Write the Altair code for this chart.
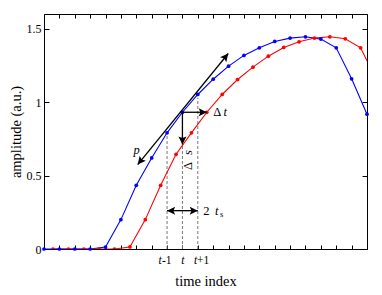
import altair as alt
import pandas as pd

# ---- data ----
blue_x = list(range(22))
blue_y = [0, 0, 0, 0, 0.013, 0.2, 0.434, 0.62, 0.791, 0.931, 1.052, 1.156, 1.245,
          1.318, 1.37, 1.413, 1.436, 1.445, 1.429, 1.37, 1.159, 0.918]
red_x = [0.585 + k for k in range(22)]
red_y = [0, 0, 0, 0, 0, 0.014, 0.2, 0.434, 0.645, 0.791, 0.931, 1.052, 1.154,
         1.238, 1.313, 1.372, 1.411, 1.436, 1.445, 1.431, 1.37, 1.159]

x_ticks = list(range(22))
y_ticks = [0, 0.5, 1, 1.5]

dashed_x = [8, 9, 10]
dashed_top = [0.79, 0.931, 1.03]

# arrow segments (data units)
seg_x = [6.09, 9, 9, 8]
seg_y = [0.575, 0.931, 0.931, 0.261]
seg_x2 = [11.98, 10.585, 9, 10]
seg_y2 = [1.331, 0.931, 0.711, 0.261]
# arrow heads
head_x = [11.98, 6.09, 10.585, 9, 8, 10]
head_y = [1.331, 0.575, 0.931, 0.711, 0.261, 0.261]
head_angle = [309.3, 129.3, 0, 90, 180, 0]

# annotation texts
up_text = ["Δ", "2", "-1", "+1"]
up_x = [11.27, 10.55, 7.98, 10.35]
up_y = [0.931, 0.261, -0.085, -0.085]
up_size = [12.5, 12.5, 11.5, 11.5]
it_text = ["p", "t", "t", "t", "t", "t"]
it_x = [6.02, 11.79, 11.23, 7.54, 9.02, 9.85]
it_y = [0.675, 0.931, 0.261, -0.085, -0.085, -0.085]
it_size = [12.5, 12.5, 12.5, 11.5, 11.5, 11.5]
sub_text = ["s"]
sub_x = [11.55]
sub_y = [0.238]
rot_up_text = ["Δ"]
rot_up_x = [9.38]
rot_up_y = [0.565]
rot_it_text = ["s"]
rot_it_x = [9.38]
rot_it_y = [0.656]

FONT = "Liberation Serif"
BLUE = "#0000ff"
RED = "#ff0000"

xs = alt.Scale(domain=[0, 21], nice=False, zero=False)
ys = alt.Scale(domain=[0, 1.6], nice=False, zero=False)


def X(f, axis=None):
    return alt.X(f, type="quantitative", scale=xs, axis=axis)


def Y(f, axis=None):
    return alt.Y(f, type="quantitative", scale=ys, axis=axis)


blue_df = pd.DataFrame({"x": blue_x, "y": blue_y})
red_df = pd.DataFrame({"x": red_x, "y": red_y})

ax_bottom = alt.Axis(orient="bottom", values=x_ticks, labels=False, domain=False,
                     tickSize=4, offset=-4, tickColor="black", grid=False,
                     title="time index", titleFont=FONT, titleFontSize=14.5,
                     titleFontWeight="normal", titleColor="black", titlePadding=25)
ax_top = alt.Axis(orient="top", values=x_ticks, labels=False, domain=False,
                  tickSize=4, offset=-4, tickColor="black", grid=False, title=None)
ax_left = alt.Axis(orient="left", values=y_ticks, format="~g", domain=False,
                   tickSize=5, offset=-5, tickColor="black", labelPadding=3,
                   labelFont=FONT, labelFontSize=12, labelColor="black", grid=False,
                   title="amplitude (a.u.)", titleFont=FONT, titleFontSize=14.5,
                   titleFontWeight="normal", titleColor="black", titlePadding=3)
ax_right = alt.Axis(orient="right", values=y_ticks, labels=False, domain=False,
                    tickSize=5, offset=-5, tickColor="black", grid=False, title=None)

dashed = alt.Chart(pd.DataFrame({"x": dashed_x, "top": dashed_top, "zero": [0, 0, 0]})).mark_rule(
    color="#777777", strokeDash=[3, 2], strokeWidth=1
).encode(x=X("x"), y=Y("zero"), y2="top:Q")

blue_line = alt.Chart(blue_df).mark_line(color=BLUE, strokeWidth=1.1).encode(
    x=X("x", ax_bottom), y=Y("y", ax_left))
blue_pts = alt.Chart(blue_df).mark_circle(color=BLUE, size=14, opacity=1).encode(
    x=X("x"), y=Y("y"))
red_line = alt.Chart(red_df).mark_line(color=RED, strokeWidth=1.1, clip=True).encode(
    x=X("x", ax_top), y=Y("y", ax_right))
red_pts = alt.Chart(red_df).mark_circle(color=RED, size=14, opacity=1, clip=True).encode(
    x=X("x"), y=Y("y"))

segs = alt.Chart(pd.DataFrame({"x": seg_x, "y": seg_y, "x2": seg_x2, "y2": seg_y2})).mark_rule(
    color="black", strokeWidth=1.3
).encode(x=X("x"), y=Y("y"), x2="x2:Q", y2="y2:Q")

heads = alt.Chart(pd.DataFrame({"x": head_x, "y": head_y, "a": head_angle})).mark_point(
    shape="M 0 0 L -1 -0.5 L -0.8 0 L -1 0.5 Z", filled=True, color="black", opacity=1,
    size=260, strokeWidth=0.5
).encode(x=X("x"), y=Y("y"), angle=alt.Angle("a:Q", scale=None))


def texts(t, x, y, size, style="normal", angle=0):
    return alt.Chart(pd.DataFrame({"t": t, "x": x, "y": y, "s": size})).mark_text(
        font=FONT, fontStyle=style, color="black", angle=angle,
        align="center", baseline="middle"
    ).encode(x=X("x"), y=Y("y"), text="t:N", size=alt.Size("s:Q", scale=None, legend=None))


t_up = texts(up_text, up_x, up_y, up_size)
t_it = texts(it_text, it_x, it_y, it_size, style="italic")
t_sub = texts(sub_text, sub_x, sub_y, [8.5])
t_rot_up = texts(rot_up_text, rot_up_x, rot_up_y, [12.5], angle=270)
t_rot_it = texts(rot_it_text, rot_it_x, rot_it_y, [12.5], style="italic", angle=270)

chart = alt.layer(
    dashed, blue_line, red_line, blue_pts, red_pts, segs, heads,
    t_up, t_it, t_sub, t_rot_up, t_rot_it
).resolve_axis(x="independent", y="independent").properties(
    width=323, height=235,
    autosize=alt.AutoSizeParams(type="none"),
    padding={"left": 36, "top": 6, "right": 7, "bottom": 45},
).configure_view(stroke="black", strokeWidth=1).configure_axis(grid=False)

chart.save("out.html", embed_options={"renderer": "svg", "actions": False})
